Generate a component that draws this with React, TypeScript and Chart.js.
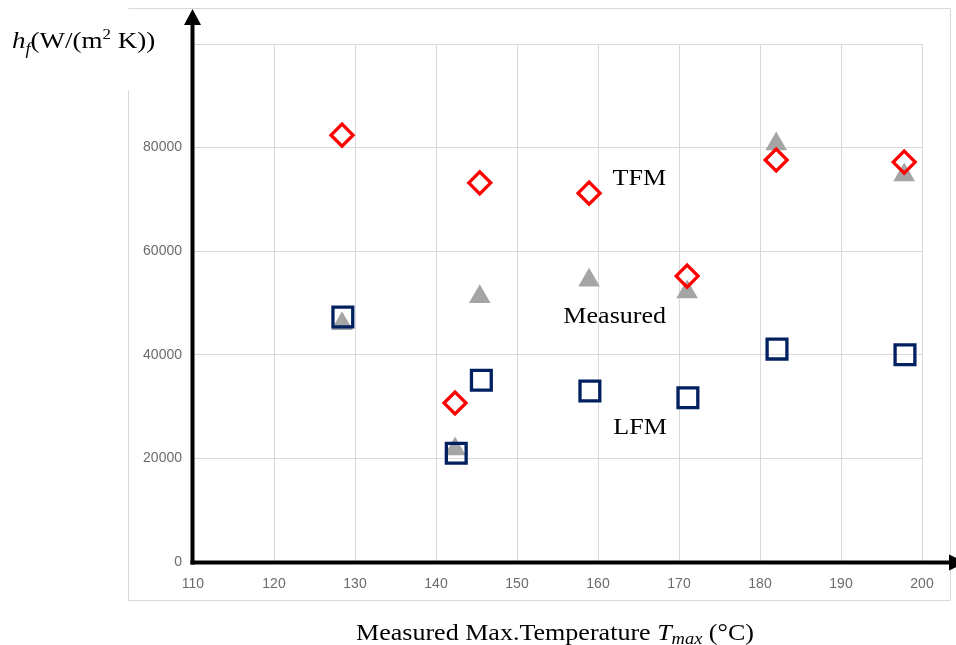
import React, { useEffect, useRef } from "react";
import { Chart, registerables } from "chart.js";

Chart.register(...registerables);

// ---- axis ranges / ticks ----
const xMin = 110;
const xMax = 200;
const xStep = 10;
const yMin = 0;
const yMax = 100000;
const yStep = 20000;
const hiddenYTicks = [100000];

// ---- series (Measured max temperature Tmax °C, hf W/(m2 K)) ----
const tfmTemp = [128.4, 142.35, 145.4, 158.9, 171.0, 182.0, 197.8];
const tfmH = [82400, 30700, 73200, 71200, 55200, 77600, 77200];

const measuredTemp = [128.4, 142.35, 145.4, 158.9, 171.0, 182.0, 197.8];
const measuredH = [46000, 21800, 51200, 54400, 52100, 80700, 74700];

const lfmTemp = [128.5, 142.5, 145.6, 159.0, 171.1, 182.1, 197.9];
const lfmH = [47300, 21000, 35100, 33000, 31700, 41100, 40000];

// ---- in-plot series labels (right edge temp, baseline value) ----
const seriesLabelText = ["TFM", "Measured", "LFM"];
const seriesLabelTemp = [168.4, 168.4, 168.5];
const seriesLabelH = [72800, 46100, 24700];

const SERIF = "'Liberation Serif', 'Times New Roman', serif";
const SANS = "'Liberation Sans', Arial, sans-serif";
const SX = 1.085;

type Run = { text: string; font: string; dy: number };

function runsWidth(ctx: CanvasRenderingContext2D, runs: Run[]) {
  let w = 0;
  for (const r of runs) {
    ctx.font = r.font;
    w += ctx.measureText(r.text).width;
  }
  return w;
}

function drawRuns(ctx: CanvasRenderingContext2D, runs: Run[], x: number, y: number, sx: number) {
  ctx.save();
  ctx.translate(x, y);
  ctx.scale(sx, 1);
  ctx.textAlign = "left";
  ctx.textBaseline = "alphabetic";
  ctx.fillStyle = "#000";
  let cx = 0;
  for (const r of runs) {
    ctx.font = r.font;
    ctx.fillText(r.text, cx, r.dy);
    cx += ctx.measureText(r.text).width;
  }
  ctx.restore();
}

const decor = {
  id: "decor",
  beforeDraw(chart: any) {
    const { ctx, chartArea } = chart;
    ctx.save();
    ctx.fillStyle = "#fff";
    ctx.fillRect(0, 0, chart.width, chart.height);
    // outer chart frame (Excel-like)
    const L = chartArea.left - 65 + 0.5;
    const R = chartArea.right + 28 + 0.5;
    const T = chartArea.top - 36 + 0.5;
    const B = chartArea.bottom + 38 + 0.5;
    ctx.strokeStyle = "#d9d9d9";
    ctx.lineWidth = 1;
    ctx.beginPath();
    ctx.moveTo(L, T);
    ctx.lineTo(R, T);
    ctx.lineTo(R, B);
    ctx.lineTo(L, B);
    ctx.lineTo(L, chartArea.top + 46);
    ctx.stroke();
    ctx.restore();
  },
  afterDraw(chart: any) {
    const { ctx } = chart;
    const xs = chart.scales.x;
    const ys = chart.scales.y;
    const ax = xs.getPixelForValue(xMin) - 0.5;
    const ay = ys.getPixelForValue(yMin) + 0.5;
    ctx.save();
    ctx.strokeStyle = "#000";
    ctx.fillStyle = "#000";
    ctx.lineWidth = 4;
    ctx.lineCap = "butt";
    // y axis arrow
    ctx.beginPath();
    ctx.moveTo(ax, ay + 2);
    ctx.lineTo(ax, 22);
    ctx.stroke();
    ctx.beginPath();
    ctx.moveTo(ax, 9);
    ctx.lineTo(ax - 8.5, 25);
    ctx.lineTo(ax + 8.5, 25);
    ctx.closePath();
    ctx.fill();
    // x axis arrow
    ctx.beginPath();
    ctx.moveTo(ax - 2, ay);
    ctx.lineTo(952, ay);
    ctx.stroke();
    ctx.beginPath();
    ctx.moveTo(966, ay);
    ctx.lineTo(949, ay - 8);
    ctx.lineTo(949, ay + 8);
    ctx.closePath();
    ctx.fill();

    // series labels
    ctx.fillStyle = "#000";
    ctx.font = `24px ${SERIF}`;
    ctx.textBaseline = "alphabetic";
    ctx.textAlign = "right";
    seriesLabelText.forEach((t, i) => {
      const px = xs.getPixelForValue(seriesLabelTemp[i]);
      const py = ys.getPixelForValue(seriesLabelH[i]);
      ctx.save();
      ctx.translate(px, py);
      ctx.scale(SX, 1);
      ctx.fillText(t, 0, 0);
      ctx.restore();
    });

    // y axis title
    const yRuns: Run[] = [
      { text: "h", font: `italic 24px ${SERIF}`, dy: 0 },
      { text: "f", font: `italic 16px ${SERIF}`, dy: 6 },
      { text: "(W/(m", font: `24px ${SERIF}`, dy: 0 },
      { text: "2", font: `15px ${SERIF}`, dy: -9 },
      { text: " K))", font: `24px ${SERIF}`, dy: 0 },
    ];
    drawRuns(ctx, yRuns, 12, 48, 1.125);

    // x axis title
    const xRuns: Run[] = [
      { text: "Measured Max.Temperature ", font: `24px ${SERIF}`, dy: 0 },
      { text: "T", font: `italic 24px ${SERIF}`, dy: 0 },
      { text: "max", font: `italic 17px ${SERIF}`, dy: 4 },
      { text: " (\u00B0C)", font: `24px ${SERIF}`, dy: 0 },
    ];
    const w = runsWidth(ctx, xRuns) * SX;
    drawRuns(ctx, xRuns, 555 - w / 2, 640, SX);
    ctx.restore();
  },
};

export default function App() {
  const ref = useRef<HTMLCanvasElement | null>(null);
  useEffect(() => {
    if (!ref.current) return;
    const tickColor = "#6b6b6b";
    const chart = new Chart(ref.current, {
      type: "scatter",
      data: {
        datasets: [
          {
            label: "TFM",
            data: tfmTemp.map((x, i) => ({ x, y: tfmH[i] })),
            pointStyle: "rectRot",
            pointRadius: 11,
            pointBorderWidth: 3.3,
            pointBorderColor: "#ff0000",
            pointBackgroundColor: "rgba(0,0,0,0)",
          },
          {
            label: "LFM",
            data: lfmTemp.map((x, i) => ({ x, y: lfmH[i] })),
            pointStyle: "rect",
            pointRadius: 14,
            pointBorderWidth: 3.3,
            pointBorderColor: "#002060",
            pointBackgroundColor: "rgba(0,0,0,0)",
          },
          {
            label: "Measured",
            data: measuredTemp.map((x, i) => ({ x, y: measuredH[i] })),
            pointStyle: "triangle",
            pointRadius: 12.5,
            pointBorderWidth: 0,
            pointBorderColor: "#a5a5a5",
            pointBackgroundColor: "#a5a5a5",
          },
        ],
      } as any,
      options: {
        animation: false,
        responsive: false,
        events: [],
        layout: { padding: { left: 128, right: 34, top: 44, bottom: 45 } },
        plugins: { legend: { display: false }, tooltip: { enabled: false } },
        scales: {
          x: {
            type: "linear",
            position: "bottom",
            min: xMin,
            max: xMax,
            ticks: { stepSize: xStep, color: tickColor, font: { family: SANS, size: 14 }, padding: 14 },
            grid: { color: "#d9d9d9", drawTicks: false, lineWidth: 1 },
            border: { display: false },
            afterFit: (s: any) => {
              s.height = 38;
            },
          },
          y: {
            type: "linear",
            min: yMin,
            max: yMax,
            ticks: {
              stepSize: yStep,
              color: tickColor,
              font: { family: SANS, size: 14 },
              padding: 11,
              callback: (v: any) => (hiddenYTicks.includes(Number(v)) ? "" : String(v)),
            },
            grid: { color: "#d9d9d9", drawTicks: false, lineWidth: 1 },
            border: { display: false },
            afterFit: (s: any) => {
              s.width = 65;
            },
          },
        },
      } as any,
      plugins: [decor],
    });
    return () => chart.destroy();
  }, []);
  return (
    <div style={{ position: "absolute", left: 0, top: 0, width: 956, height: 645, background: "#fff" }}>
      <canvas ref={ref} width={956} height={645} style={{ display: "block" }} />
    </div>
  );
}
